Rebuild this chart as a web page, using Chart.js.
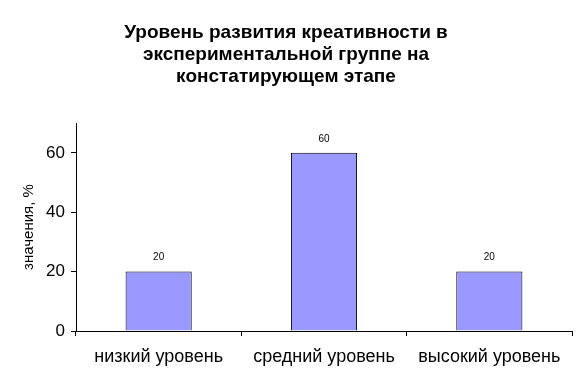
<!DOCTYPE html>
<html>
<head>
<meta charset="utf-8">
<script src="https://cdn.jsdelivr.net/npm/chart.js@4/dist/chart.umd.min.js"></script>
<style>
  html, body { margin: 0; padding: 0; background: #fff; }
  #wrap { width: 587px; height: 391px; position: relative; }
</style>
</head>
<body>
<div id="wrap"><canvas id="chartCanvas"></canvas></div>
<script>
// data
const titleLines = ["Уровень развития креативности в", "экспериментальной группе на", "констатирующем этапе"];
const categories = ["низкий уровень", "средний уровень", "высокий уровень"];
const values = [20, 60, 20];
const yTicks = [0, 20, 40, 60];
const yTitle = "значения, %";

const FONT = "Arial, 'Liberation Sans', sans-serif";

// small plugin: value labels above each bar
const barLabels = {
  id: "barLabels",
  afterDatasetsDraw(chart) {
    const ctx = chart.ctx;
    const meta = chart.getDatasetMeta(0);
    ctx.save();
    ctx.font = "10px " + FONT;
    ctx.fillStyle = "#000";
    ctx.textAlign = "center";
    ctx.textBaseline = "middle";
    meta.data.forEach((bar, i) => {
      ctx.fillText(String(values[i]), bar.x, bar.y - 14);
    });
    ctx.restore();
  }
};

const ctx = document.getElementById("chartCanvas").getContext("2d");
new Chart(ctx, {
  type: "bar",
  data: {
    labels: categories,
    datasets: [{
      data: values,
      backgroundColor: "#9999FF",
      borderColor: "#000",
      borderWidth: 1,
      barPercentage: 0.4,
      categoryPercentage: 1
    }]
  },
  options: {
    responsive: true,
    maintainAspectRatio: false,
    animation: false,
    layout: { padding: { left: 0, right: 15, top: 0, bottom: 0 } },
    plugins: {
      legend: { display: false },
      tooltip: { enabled: false },
      title: {
        display: true,
        text: titleLines,
        color: "#000",
        font: { family: FONT, size: 19, weight: "bold", lineHeight: 1.16 },
        padding: { top: 22, bottom: 35 }
      }
    },
    scales: {
      x: {
        offset: true,
        grid: { drawOnChartArea: false, offset: true, color: "#000", tickLength: 5 },
        border: { color: "#000", width: 1 },
        ticks: { color: "#000", font: { family: FONT, size: 18 }, padding: 10, maxRotation: 0 },
        afterFit(scale) { scale.height = 60; }
      },
      y: {
        min: 0,
        max: 70,
        grid: { drawOnChartArea: false, color: "#000", tickLength: 5 },
        border: { color: "#000", width: 1 },
        ticks: { stepSize: 20, color: "#000", font: { family: FONT, size: 17 }, padding: 6 },
        afterBuildTicks(scale) {
          scale.ticks = yTicks.map(v => ({ value: v }));
        },
        title: {
          display: true,
          text: yTitle,
          color: "#000",
          font: { family: FONT, size: 15 },
          padding: { top: 20, bottom: 6 }
        },
        afterFit(scale) { scale.width = 76; }
      }
    }
  },
  plugins: [barLabels]
});
</script>
</body>
</html>
